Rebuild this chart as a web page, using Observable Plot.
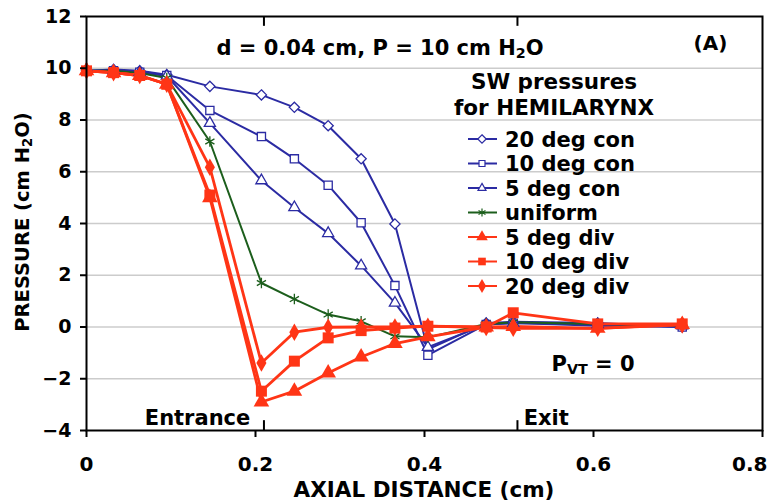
<!DOCTYPE html>
<html><head><meta charset="utf-8">
<script src="https://cdn.jsdelivr.net/npm/d3@7"></script>
<script src="https://cdn.jsdelivr.net/npm/@observablehq/plot@0.6"></script>
<style>body{margin:0;background:#fff} svg{display:block}</style>
</head><body><div id="chart"></div>
<script>
// axial positions (cm)
const distance = [0, 0.032, 0.063, 0.095, 0.146, 0.207, 0.246, 0.286, 0.325, 0.365, 0.404, 0.473, 0.505, 0.605, 0.705];
const seriesNames = ["20 deg con", "10 deg con", "5 deg con", "uniform", "5 deg div", "10 deg div", "20 deg div"];
const con20 = [9.9, 9.95, 9.9, 9.75, 9.3, 8.97, 8.49, 7.78, 6.5, 3.98, -0.86, 0.15, 0.2, 0.15, 0.0];
const con10 = [9.9, 9.9, 9.85, 9.72, 8.37, 7.36, 6.5, 5.48, 4.03, 1.6, -1.09, 0.1, 0.15, 0.05, 0.0];
const con5 = [9.9, 9.9, 9.85, 9.7, 7.88, 5.66, 4.62, 3.62, 2.37, 0.93, -0.78, 0.1, 0.15, 0.1, 0.05];
const uniform = [9.9, 9.9, 9.82, 9.62, 7.17, 1.7, 1.08, 0.48, 0.22, -0.36, -0.4, 0.12, 0.18, 0.12, 0.05];
const div5 = [9.9, 9.83, 9.72, 9.38, 5.0, -2.9, -2.48, -1.78, -1.16, -0.64, -0.38, 0.0, 0.02, -0.05, 0.1];
const div10 = [9.9, 9.83, 9.72, 9.38, 5.1, -2.48, -1.32, -0.42, -0.14, -0.04, 0.03, 0.0, 0.55, 0.12, 0.12];
const div20 = [9.9, 9.83, 9.72, 9.38, 6.17, -1.39, -0.2, -0.01, 0.0, 0.0, 0.03, -0.02, -0.05, -0.05, 0.08];
const seriesValues = [con20, con10, con5, uniform, div5, div10, div20];
const seriesColors = ["#2b2ba3", "#2b2ba3", "#2b2ba3", "#1c5e1c", "#ff3516", "#ff3516", "#ff3516"];
const seriesSymbols = ["diamond2", "square2", "triangle2", "asterisk", "triangle", "square", "diamond"];
const seriesFilled = [false, false, false, false, true, true, true];
const xTicks = [0, 0.2, 0.4, 0.6, 0.8];
const yTicks = [-4, -2, 0, 2, 4, 6, 8, 10, 12];
const gridValues = [-2, 0, 2, 4, 6, 8, 10];
const boundaryTicks = [0.21, 0.51];

const FONT = "DejaVu Sans";
const rows = [];
seriesNames.forEach((name, i) => seriesValues[i].forEach((v, j) => rows.push({series: name, idx: i, x: distance[j], y: v})));

const marks = [
  Plot.gridY(gridValues, {stroke: "#cccccc", strokeOpacity: 1, strokeWidth: 1.5}),
];
seriesNames.forEach((name, i) => {
  const d = rows.filter(r => r.idx === i);
  marks.push(Plot.line(d, {x: "x", y: "y", stroke: seriesColors[i], strokeWidth: seriesFilled[i] ? 2.8 : 2}));
});
seriesNames.forEach((name, i) => {
  const d = rows.filter(r => r.idx === i);
  const filled = seriesFilled[i];
  const sym = seriesSymbols[i];
  const r = sym === "square" ? 6.2 : sym === "square2" ? 5.2 : sym === "diamond2" ? 4.6 : sym === "asterisk" ? 5 : sym === "triangle" ? 5.8 : 5.3;
  marks.push(Plot.dot(d, {
    x: "x", y: "y", symbol: () => sym, r,
    fill: filled ? seriesColors[i] : (sym === "asterisk" ? "none" : "white"),
    stroke: filled ? "none" : seriesColors[i],
    strokeWidth: 1.3
  }));
});
marks.push(
  Plot.ruleX(boundaryTicks, {y1: -4, y2: -3.62, stroke: "black", strokeWidth: 2}),
  Plot.ruleX(boundaryTicks, {y1: 12, y2: 11.62, stroke: "black", strokeWidth: 2}),
  Plot.frame({stroke: "black", strokeWidth: 2}),
  Plot.axisX(xTicks, {tickSize: 7, tickPadding: 19, fontSize: 20, fontWeight: "bold", stroke: "black", strokeWidth: 2, label: null, tickFormat: d => d === 0 ? "0" : String(d)}),
  Plot.axisY(yTicks, {tickSize: 6, tickPadding: 9, fontSize: 19, fontWeight: "bold", stroke: "black", strokeWidth: 2, label: null})
);

const plot = Plot.plot({
  width: 769, height: 503,
  marginLeft: 86, marginRight: 7, marginTop: 16, marginBottom: 73,
  x: {domain: [0, 0.8]},
  y: {domain: [-4, 12]},
  symbol: {type: "identity"},
  style: {fontFamily: FONT, fontWeight: "bold", color: "black", background: "white", overflow: "visible"},
  marks
});
document.getElementById("chart").appendChild(plot);

const svg = d3.select(plot);
const sx = v => plot.scale("x").apply(v);
const sy = v => plot.scale("y").apply(v);

// keep the last x tick label inside the picture
svg.selectAll("text").filter(function() { return this.textContent === "0.8"; })
  .attr("text-anchor", "end").attr("dx", 5);

function addText(x, y, parts, size, anchor = "middle", rotate = 0) {
  const t = svg.append("text")
    .attr("font-family", FONT).attr("font-weight", "bold").attr("font-size", size)
    .attr("fill", "black").attr("text-anchor", anchor).attr("dy", "0.36em");
  if (rotate) t.attr("transform", `translate(${x},${y}) rotate(${rotate})`);
  else t.attr("x", x).attr("y", y);
  parts.forEach(p => {
    const s = t.append("tspan").text(p.t);
    if (p.sub) s.attr("font-size", size * 0.68).attr("baseline-shift", "-22%");
  });
  return t;
}

// annotations
addText(sx(0.348), sy(10.78), [{t: "d = 0.04 cm, P = 10 cm H"}, {t: "2", sub: 1}, {t: "O"}], 21);
addText(sx(0.739), sy(10.96), [{t: "(A)"}], 20);
addText(sx(0.6), sy(-1.44), [{t: "P"}, {t: "VT", sub: 1}, {t: " = 0"}], 21);
addText(sx(0.132), sy(-3.5), [{t: "Entrance"}], 21);
addText(sx(0.518), sy(-3.5), [{t: "Exit"}], 21, "start");
addText(424, 489, [{t: "AXIAL DISTANCE (cm)"}], 21.5);
addText(22, 222, [{t: "PRESSURE (cm H"}, {t: "2", sub: 1}, {t: "O)"}], 19.5, "middle", -90);

// legend
const lg = svg.append("g");
addText(554, 81, [{t: "SW pressures"}], 21.5);
addText(554, 107, [{t: "for HEMILARYNX"}], 21.5);
const symMap = {diamond2: d3.symbolDiamond2, square2: d3.symbolSquare2, triangle2: d3.symbolTriangle2,
  asterisk: d3.symbolAsterisk, triangle: d3.symbolTriangle, square: d3.symbolSquare, diamond: d3.symbolDiamond};
seriesNames.forEach((name, i) => {
  const y = 139 + i * 24.5;
  lg.append("line").attr("x1", 468).attr("x2", 497).attr("y1", y).attr("y2", y)
    .attr("stroke", seriesColors[i]).attr("stroke-width", 2);
  const r = seriesFilled[i] ? 4.3 : 3.8;
  lg.append("path").attr("transform", `translate(482,${y})`)
    .attr("d", d3.symbol(symMap[seriesSymbols[i]], r * r * Math.PI)())
    .attr("fill", seriesFilled[i] ? seriesColors[i] : (seriesSymbols[i] === "asterisk" ? "none" : "white"))
    .attr("stroke", seriesFilled[i] ? "none" : seriesColors[i]).attr("stroke-width", 1.2);
  addText(505, y, [{t: name}], 21, "start");
});
</script></body></html>
